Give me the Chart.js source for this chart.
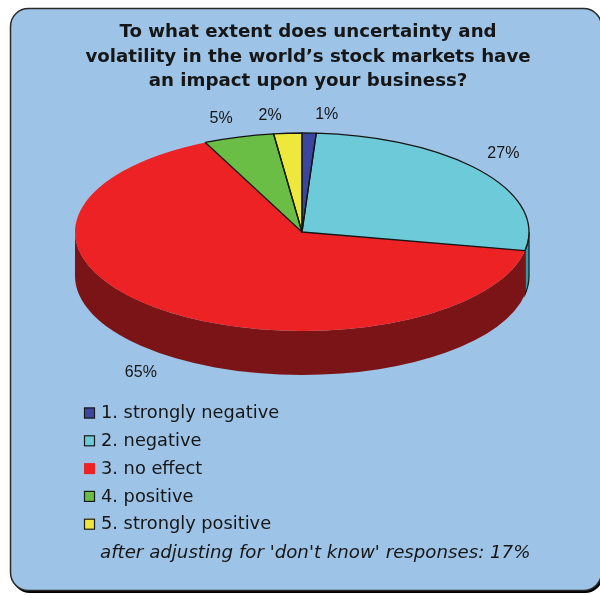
<!DOCTYPE html>
<html>
<head>
<meta charset="utf-8">
<script src="https://cdn.jsdelivr.net/npm/chart.js@4/dist/chart.umd.min.js"></script>
<style>
  html, body { margin: 0; padding: 0; background: #ffffff; }
  canvas { display: block; }
</style>
</head>
<body>
<canvas id="chart" width="600" height="595"></canvas>
<script>
// ---- data ----
const titleLines = [
  'To what extent does uncertainty and',
  'volatility in the world\u2019s stock markets have',
  'an impact upon your business?'
];
const categories = [
  '1. strongly negative',
  '2. negative',
  '3. no effect',
  '4. positive',
  '5. strongly positive'
];
const shares = [1, 27, 65, 5, 2];
const footnote = "after adjusting for 'don't know' responses: 17%";

// ---- styling ----
const topColors  = ['#3B479E', '#6DCAD8', '#ED2224', '#6ABD45', '#EEE83C'];
const sideColors = ['#1F275E', '#2F9AA4', '#7B1416', '#3D7426', '#8E8A1C'];
const outlined   = [true, true, false, true, true];
const PANEL_BG = '#9DC3E6';
const INK = '#161616';

// projection of the flat pie onto a tilted disc with some thickness
const TILT = { cx: 302, cy: 232, rx: 227, ry: 99, depth: 44 };

function arcProps(arc) {
  return arc.getProps(['x', 'y', 'startAngle', 'endAngle', 'outerRadius'], true);
}

// part of [s, e] that faces the viewer (lower half of the disc)
function frontPart(s, e) {
  const a = Math.max(s, 0), b = Math.min(e, Math.PI);
  return b > a ? [a, b] : null;
}

const panelPlugin = {
  id: 'panel',
  beforeDraw(chart) {
    const ctx = chart.ctx;
    ctx.save();
    ctx.fillStyle = '#ffffff';
    ctx.fillRect(0, 0, chart.width, chart.height);
    // drop shadow
    ctx.fillStyle = '#000000';
    ctx.beginPath();
    ctx.roundRect(12, 10, 591, 583, 18);
    ctx.fill();
    // panel
    ctx.fillStyle = PANEL_BG;
    ctx.strokeStyle = '#2a2a2a';
    ctx.lineWidth = 1.5;
    ctx.beginPath();
    ctx.roundRect(10.5, 8.5, 591, 582, 18);
    ctx.fill();
    ctx.stroke();
    ctx.restore();
  }
};

const tiltPlugin = {
  id: 'tilt',
  beforeDatasetsDraw(chart) {
    const ctx = chart.ctx;
    const meta = chart.getDatasetMeta(0);
    const { cx, cy, rx, ry, depth } = TILT;

    // visible rim of the disc
    ctx.save();
    meta.data.forEach((arc, i) => {
      const p = arcProps(arc);
      const seg = frontPart(p.startAngle, p.endAngle);
      if (!seg) return;
      ctx.beginPath();
      ctx.ellipse(cx, cy, rx, ry, 0, seg[0], seg[1]);
      ctx.ellipse(cx, cy + depth, rx, ry, 0, seg[1], seg[0], true);
      ctx.closePath();
      ctx.fillStyle = sideColors[i];
      ctx.fill();
      if (outlined[i]) {
        ctx.strokeStyle = INK;
        ctx.lineWidth = 1.2;
        ctx.stroke();
      }
    });
    ctx.restore();

    // squash the library's round pie into the top face
    const p0 = arcProps(meta.data[0]);
    ctx.save();
    ctx.translate(cx, cy);
    ctx.scale(rx / p0.outerRadius, ry / p0.outerRadius);
    ctx.translate(-p0.x, -p0.y);
  },
  afterDatasetsDraw(chart) {
    const ctx = chart.ctx;
    ctx.restore();
    const meta = chart.getDatasetMeta(0);
    const { cx, cy, rx, ry, depth } = TILT;

    // slice outlines on the top face
    ctx.save();
    ctx.strokeStyle = INK;
    ctx.lineWidth = 1.3;
    ctx.lineJoin = 'round';
    meta.data.forEach((arc, i) => {
      if (!outlined[i]) return;
      const p = arcProps(arc);
      ctx.beginPath();
      ctx.moveTo(cx, cy);
      ctx.ellipse(cx, cy, rx, ry, 0, p.startAngle, p.endAngle);
      ctx.closePath();
      ctx.stroke();
    });

    // percentage labels around the disc
    ctx.font = '16px "Liberation Sans", Arial, sans-serif';
    ctx.fillStyle = INK;
    ctx.textAlign = 'center';
    ctx.textBaseline = 'middle';
    meta.data.forEach((arc, i) => {
      const p = arcProps(arc);
      const m = (p.startAngle + p.endAngle) / 2;
      const c = Math.cos(m), s = Math.sin(m);
      const text = shares[i] + '%';
      const w = ctx.measureText(text).width;
      let x = cx + rx * c;
      let y = cy + ry * s;
      if (s > 0) y += depth;
      x += Math.sign(c) * (w / 2 + 6);
      y += (s > 0 ? 1 : -1) * 18;
      ctx.fillText(text, x, y);
    });
    ctx.restore();
  }
};

const legendPlugin = {
  id: 'listLegend',
  afterDraw(chart) {
    const ctx = chart.ctx;
    const ds = chart.data.datasets[0];
    ctx.save();
    ctx.font = '17.8px "DejaVu Sans", Verdana, sans-serif';
    ctx.textBaseline = 'middle';
    ctx.textAlign = 'left';
    chart.data.labels.forEach((label, i) => {
      const y = 413 + i * 27.8;
      ctx.fillStyle = ds.backgroundColor[i];
      ctx.fillRect(84, y - 5.5, 11, 11);
      if (outlined[i]) {
        ctx.strokeStyle = '#1a1a1a';
        ctx.lineWidth = 1.2;
        ctx.strokeRect(84.5, y - 5, 10, 10);
      }
      ctx.fillStyle = INK;
      ctx.fillText(label, 101, y + 0.5);
    });
    ctx.font = 'italic 18.2px "DejaVu Sans", Verdana, sans-serif';
    ctx.fillText(footnote, 100, 553);
    ctx.restore();
  }
};

new Chart(document.getElementById('chart'), {
  type: 'pie',
  data: {
    labels: categories,
    datasets: [{
      data: shares,
      backgroundColor: topColors,
      borderWidth: 0,
      clip: false
    }]
  },
  options: {
    responsive: false,
    devicePixelRatio: 1,
    animation: false,
    events: [],
    layout: { padding: { top: 0, bottom: 20, left: 36, right: 20 } },
    plugins: {
      legend: { display: false },
      tooltip: { enabled: false },
      title: {
        display: true,
        text: titleLines,
        color: INK,
        font: { family: '"DejaVu Sans", Verdana, sans-serif', size: 18.2, weight: 'bold', lineHeight: 1.35 },
        padding: { top: 20, bottom: 10 }
      }
    }
  },
  plugins: [panelPlugin, tiltPlugin, legendPlugin]
});
</script>
</body>
</html>
